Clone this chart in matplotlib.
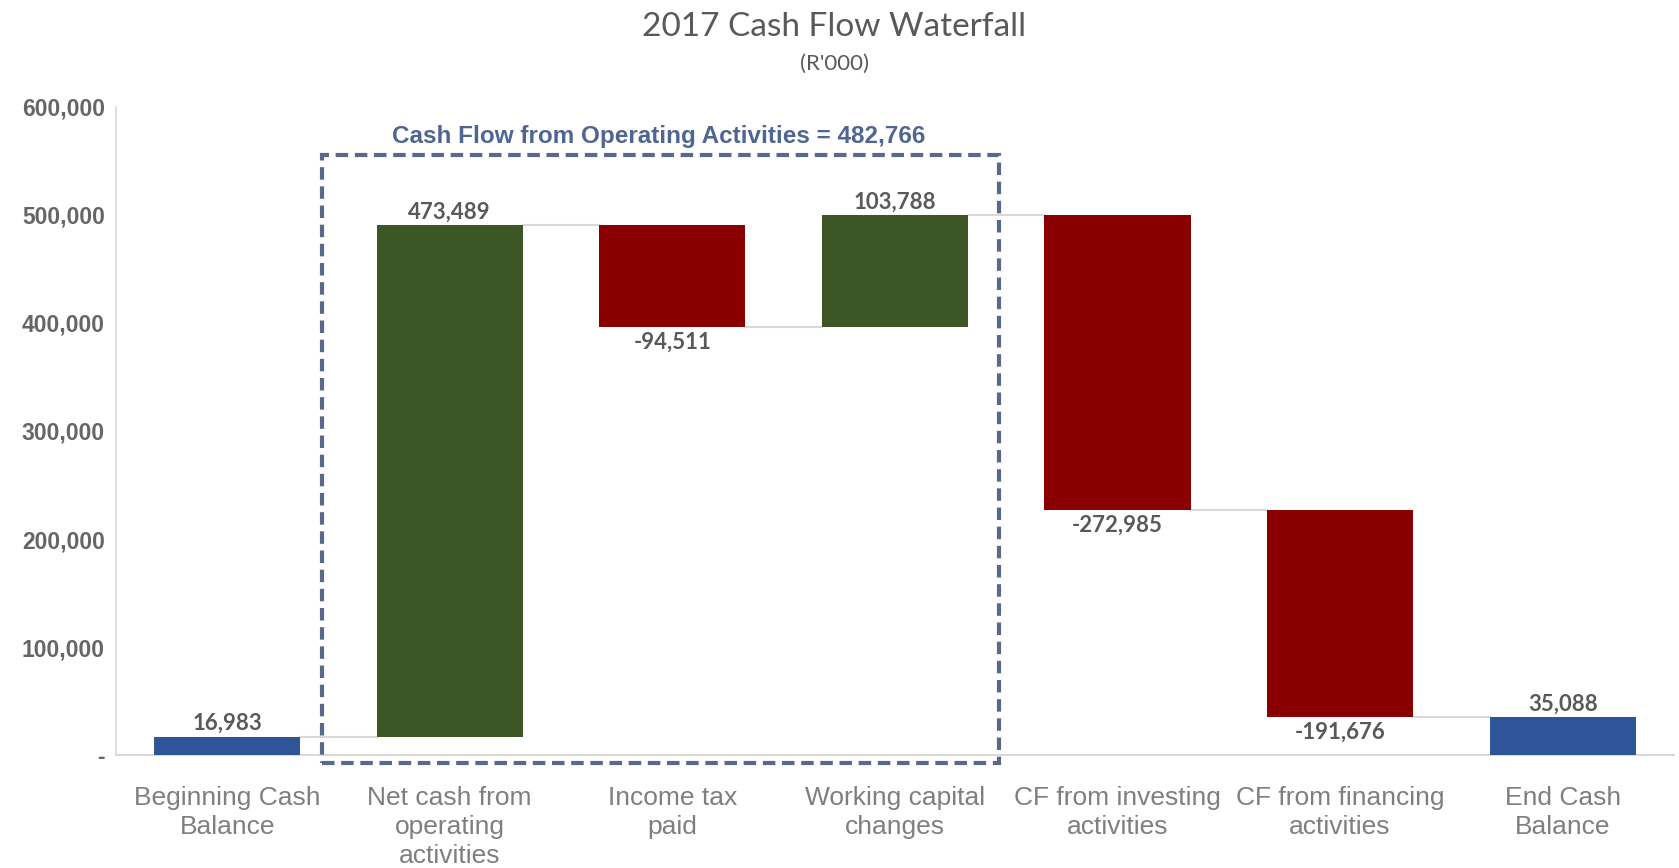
import numpy as np
import matplotlib
matplotlib.use("Agg")
import matplotlib.pyplot as plt
from matplotlib.patches import Rectangle
from matplotlib.ticker import FuncFormatter

# data (R'000)
categories = ['Beginning Cash\nBalance', 'Net cash from\noperating\nactivities', 'Income tax\npaid',
              'Working capital\nchanges', 'CF from investing\nactivities', 'CF from financing\nactivities',
              'End Cash\nBalance']
steps = [16983, 473489, -94511, 103788, -272985, -191676]
end_balance = 35088
box_label = 'Cash Flow from Operating Activities = 482,766'

blue = '#2e5597'
green = '#3c5725'
red = '#8a0000'
label_col = '#595959'

running = np.cumsum(steps)
starts = np.concatenate([[0], running[:-1]])
heights = list(steps) + [end_balance]
bottoms = list(starts) + [0]
colors = [blue] + [green if v > 0 else red for v in steps[1:]] + [blue]

fig = plt.figure(figsize=(16.79, 8.68), dpi=100)
ax = fig.add_axes([0.069, 0.130, 0.928, 0.747])

x = np.arange(len(categories))
w = 0.656
ax.bar(x, heights, bottom=bottoms, width=w, color=colors, zorder=3)

# connector lines
tops = list(running)
for i in range(len(categories) - 1):
    ax.plot([x[i] + w / 2, x[i + 1] - w / 2], [tops[i], tops[i]], color='#d9d9d9', lw=1.5, zorder=2)

# data labels
for i, (h, b) in enumerate(zip(heights, bottoms)):
    txt = '{:,}'.format(h)
    if h >= 0:
        ax.annotate(txt, (x[i], b + h), xytext=(0, 2), textcoords='offset points',
                    ha='center', va='bottom', fontsize=16, fontweight='bold',
                    color=label_col, family=['Lato', 'DejaVu Sans'])
    else:
        ax.annotate(txt, (x[i], b + h), xytext=(0, -3), textcoords='offset points',
                    ha='center', va='top', fontsize=16, fontweight='bold',
                    color=label_col, family=['Lato', 'DejaVu Sans'])

# dashed box around operating activities
box = Rectangle((0.426, -6900), 3.469 - 0.426, 555400 + 6900, fill=False,
                edgecolor='#58698a', lw=3, ls=(0, (3, 1.6)), zorder=4, clip_on=False)
ax.add_patch(box)
ax.text(1.94, 572700, box_label, ha='center', va='center', fontsize=17.5, fontweight='bold',
        color='#4f6690', family=['Liberation Sans Narrow', 'Liberation Sans'])

ax.set_xlim(-0.5, 6.5)
ax.set_ylim(0, 600000)
ax.set_yticks(np.arange(0, 600001, 100000))
ax.yaxis.set_major_formatter(FuncFormatter(lambda v, p: '-' if v == 0 else '{:,.0f}'.format(v)))
ax.set_xticks(x)
ax.set_xticklabels(categories, fontsize=19, color='#7f7f7f', family='Liberation Sans', linespacing=1.27)
for lab in ax.get_yticklabels():
    lab.set_fontsize(16.5)
    lab.set_color('#666666')
    lab.set_fontweight('bold')
    lab.set_family('Liberation Sans')
ax.tick_params(axis='both', length=0)
ax.tick_params(axis='x', pad=22)
ax.tick_params(axis='y', pad=8)

for s in ['top', 'right']:
    ax.spines[s].set_visible(False)
ax.spines['left'].set_color('#d9d9d9')
ax.spines['bottom'].set_color('#d9d9d9')
ax.spines['left'].set_linewidth(1.2)
ax.spines['bottom'].set_linewidth(1.5)

fig.text(0.497, 0.969, '2017 Cash Flow Waterfall', ha='center', va='center', fontsize=24,
         color='#595959', family=['Lato', 'DejaVu Sans'])
fig.text(0.497, 0.926, "(R'000)", ha='center', va='center', fontsize=16,
         color='#595959', family=['Lato', 'DejaVu Sans'])

plt.savefig('out.png', dpi=100)
